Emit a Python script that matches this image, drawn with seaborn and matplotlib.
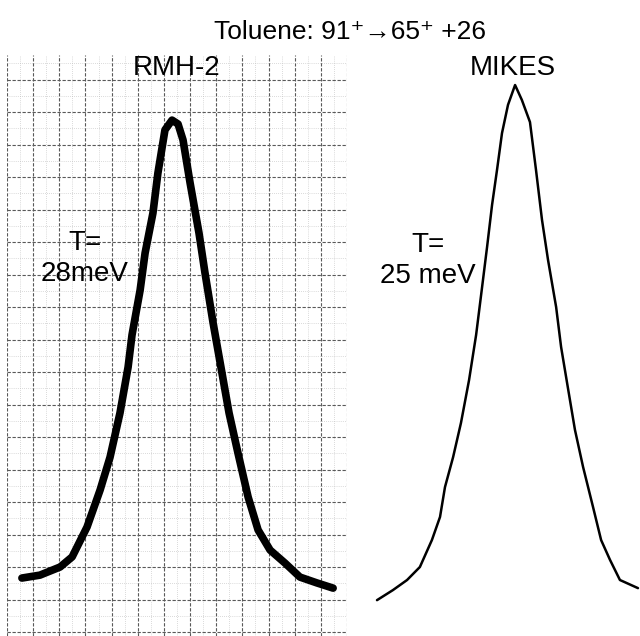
import matplotlib
matplotlib.use("Agg")
import matplotlib.pyplot as plt
from matplotlib.ticker import MultipleLocator
import seaborn as sns

# Data (chart-paper division units)

rmh_x = [0.57, 1.26, 2.03, 2.49, 3.06, 3.56, 3.94, 4.32, 4.63, 4.78, 5.09,
         5.28, 5.58, 5.77, 6.04, 6.31, 6.54, 6.73, 7.00, 7.34, 7.57, 7.88,
         8.18, 8.49, 8.83, 9.22, 9.60, 10.06, 10.63, 11.20, 11.85, 12.47]
rmh_y = [1.66, 1.75, 2.00, 2.31, 3.23, 4.37, 5.38, 6.74, 8.15, 9.14, 10.52,
         11.66, 12.89, 14.12, 15.45, 15.75, 15.63, 15.14, 13.82, 12.28, 11.05, 9.51,
         8.15, 6.74, 5.51, 4.15, 3.14, 2.52, 2.12, 1.69, 1.51, 1.35]

mikes_x = [0.65, 1.26, 1.80, 2.29, 2.75, 3.06, 3.25, 3.56, 3.86, 4.17, 4.44,
           4.67, 4.86, 5.05, 5.24, 5.43, 5.66, 5.93, 6.19, 6.50, 6.73, 6.96,
           7.19, 7.50, 7.69, 7.92, 8.22, 8.53, 8.91, 9.22, 9.56, 9.94, 10.63]
mikes_y = [0.98, 1.29, 1.60, 2.00, 2.83, 3.54, 4.46, 5.38, 6.43, 7.75, 9.14,
           10.62, 11.85, 13.14, 14.22, 15.35, 16.22, 16.83, 16.37, 15.69, 14.22, 12.68,
           11.45, 10.00, 8.77, 7.66, 6.22, 5.08, 3.85, 2.83, 2.22, 1.60, 1.35]

TITLE = "Toluene: 91\u207a\u219265\u207a +26"
PANEL_LABELS = ["RMH-2", "MIKES"]
TEMP_LABELS = [("T=", "28meV"), ("T=", "25 meV")]

# Style

sns.set_theme(style="white")
plt.rcParams["font.family"] = ["Liberation Sans", "DejaVu Sans"]
plt.rcParams["text.color"] = "black"

W, H = 640, 636
fig = plt.figure(figsize=(6.4, 6.36), dpi=100)

y_lo, y_hi = -0.123, 17.754

# Left panel: chart recorder paper
ax1 = fig.add_axes([7 / W, 0, 340 / W, 581 / H])
ax1.set_xlim(0, 13)
ax1.set_ylim(y_lo, y_hi)
ax1.xaxis.set_major_locator(MultipleLocator(1))
ax1.yaxis.set_major_locator(MultipleLocator(1))
ax1.xaxis.set_minor_locator(MultipleLocator(0.5))
ax1.yaxis.set_minor_locator(MultipleLocator(0.5))
ax1.grid(which="major", color="0.35", lw=0.8, ls=(0, (3, 1.5)))
ax1.grid(which="minor", color="0.72", lw=0.5, ls=(0, (1, 2)))
ax1.tick_params(which="both", length=0, labelbottom=False, labelleft=False)
for s in ax1.spines.values():
    s.set_visible(False)

sns.lineplot(x=rmh_x, y=rmh_y, ax=ax1, sort=False, estimator=None,
             color="black", lw=5.5, solid_joinstyle="round",
             solid_capstyle="round")
ax1.set_xlabel("")
ax1.set_ylabel("")

# Right panel: plain trace
ax2 = fig.add_axes([360 / W, 0, 280 / W, 581 / H])
ax2.set_xlim(0, 280 / 26.15)
ax2.set_ylim(y_lo, y_hi)
sns.lineplot(x=mikes_x, y=mikes_y, ax=ax2, sort=False, estimator=None,
             color="black", lw=1.8, solid_joinstyle="round")
ax2.axis("off")

# Text

fig.text(350 / W, 1 - 39 / H, TITLE, ha="center", va="baseline", fontsize=19)
fig.text(177 / W, 1 - 75 / H, PANEL_LABELS[0], ha="center", va="baseline",
         fontsize=20)
fig.text(513 / W, 1 - 75 / H, PANEL_LABELS[1], ha="center", va="baseline",
         fontsize=20)

for (top, bot), cx, base in zip(TEMP_LABELS, [85, 428], [250, 252]):
    fig.text(cx / W, 1 - base / H, top, ha="center", va="baseline", fontsize=20)
    fig.text(cx / W, 1 - (base + 31) / H, bot, ha="center", va="baseline",
             fontsize=20)

fig.savefig("out.png", dpi=100)
